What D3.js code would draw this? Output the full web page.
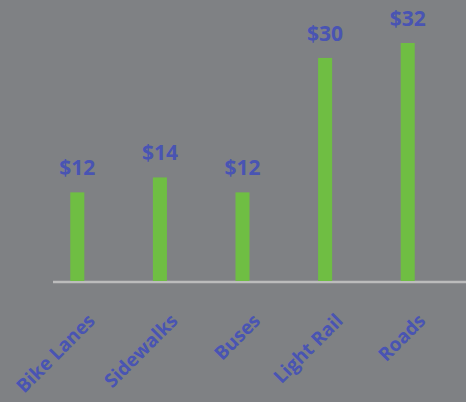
<!DOCTYPE html>
<html>
<head>
<meta charset="utf-8">
<script src="https://cdn.jsdelivr.net/npm/d3@7"></script>
<style>
  html, body { margin: 0; padding: 0; background: #7f8184; }
  svg { display: block; }
</style>
</head>
<body>
<svg></svg>
<script>
var width = 466;
var height = 402;

// data
var categories = ["Bike Lanes", "Sidewalks", "Buses", "Light Rail", "Roads"];
var costs = [12, 14, 12, 30, 32];

var svg = d3.select('svg')
    .attr('width', width)
    .attr('height', height);

svg.append('rect')
    .attr('width', width)
    .attr('height', height)
    .attr('fill', '#7f8184');

// band scale, bars are thin so keep big padding
var x = d3.scaleBand()
    .domain(categories)
    .range([36, 449])
    .paddingInner(0.83)
    .paddingOuter(0.415);

var y = d3.scaleLinear()
    .domain([0, 32])
    .range([282, 43]);

// axis line
svg.append('line')
    .attr('x1', 53)
    .attr('x2', width)
    .attr('y1', y(0))
    .attr('y2', y(0))
    .attr('stroke', '#bcbcbc')
    .attr('stroke-width', 2.5);

// bars
svg.selectAll('.bar')
    .data(costs)
    .enter()
    .append('rect')
        .classed('bar', true)
        .attr('x', (d, i) => x(categories[i]))
        .attr('width', x.bandwidth())
        .attr('y', d => y(d))
        .attr('height', d => y(0) - y(d) - 1)
        .attr('fill', '#6fbe43');

// value labels
svg.selectAll('.val')
    .data(costs)
    .enter()
    .append('text')
        .classed('val', true)
        .attr('x', (d, i) => x(categories[i]) + x.bandwidth() / 2)
        .attr('y', d => y(d) - 17)
        .attr('text-anchor', 'middle')
        .attr('font-family', 'Open Sans')
        .attr('font-weight', 700)
        .attr('font-size', 21)
        .attr('fill', '#4954b3')
        .text(d => '$' + d);

// category labels, rotated
svg.selectAll('.cat')
    .data(categories)
    .enter()
    .append('text')
        .classed('cat', true)
        .attr('transform', d => `translate(${x(d) + x.bandwidth() / 2 + 19}, 322) rotate(-45)`)
        .attr('text-anchor', 'end')
        .attr('font-family', 'Open Sans')
        .attr('font-weight', 700)
        .attr('font-size', 19)
        .attr('fill', '#4954b3')
        .text(d => d);
</script>
</body>
</html>
